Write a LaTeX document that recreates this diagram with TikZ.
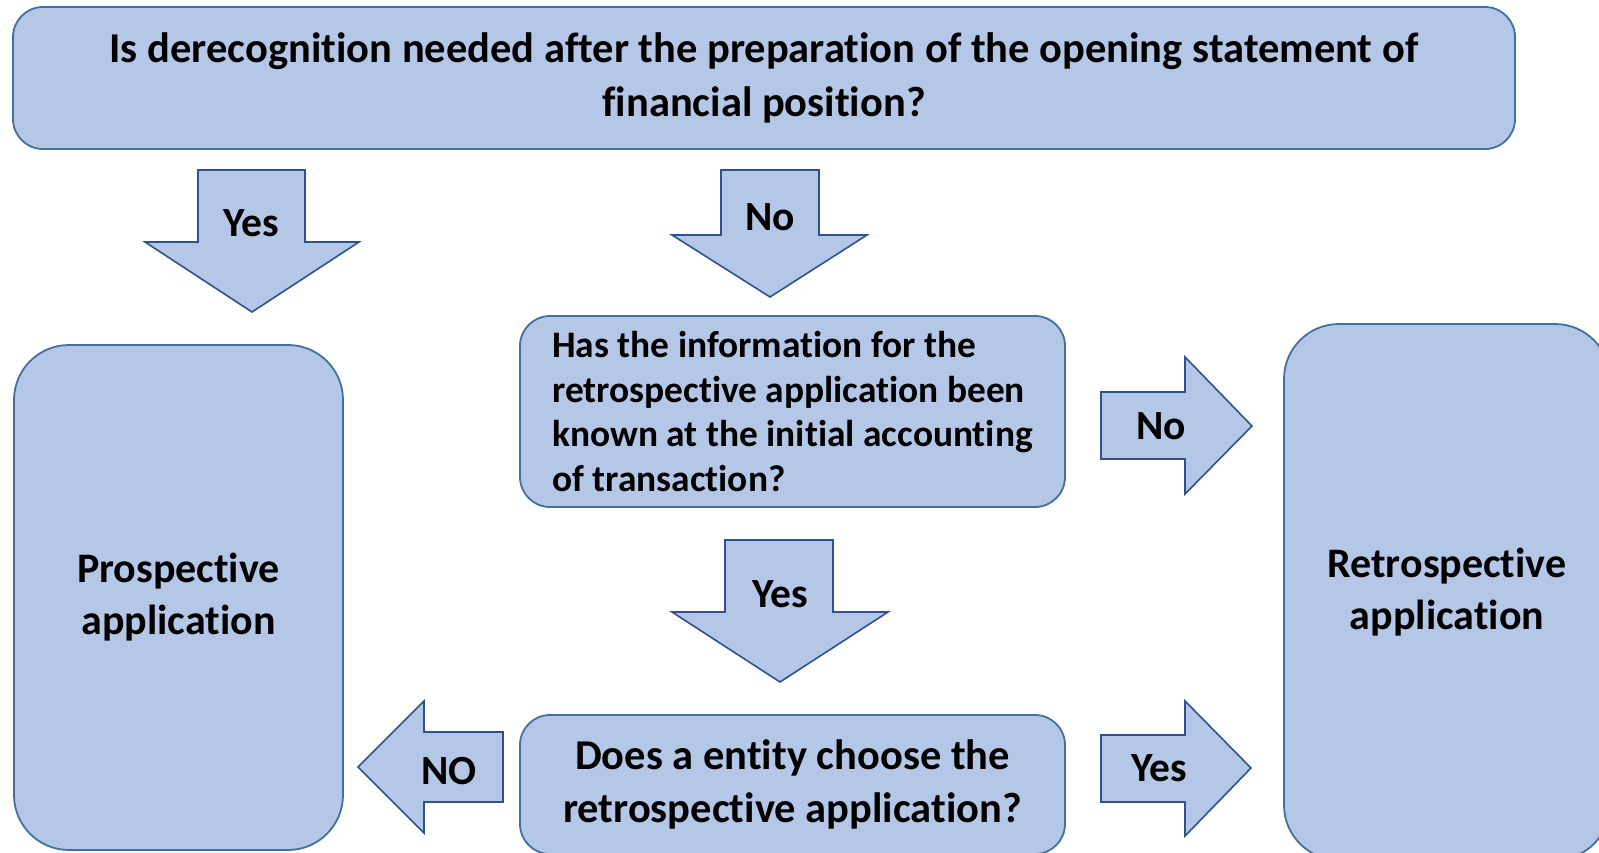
\documentclass[tikz,border=0pt]{standalone}
\usepackage{fontspec}
\setmainfont{Carlito}[Ligatures=NoCommon]
\usetikzlibrary{positioning}

\definecolor{boxfill}{HTML}{B4C7E7}
\definecolor{boxline}{HTML}{41719C}
\definecolor{arrowline}{HTML}{2F528F}

\begin{document}
\begin{tikzpicture}[
    x=1pt, y=-1pt,
    box/.style={rectangle, draw=boxline, fill=boxfill, line width=1.8pt, rounded corners=30pt, inner sep=0pt, font=\bfseries},
    tallbox/.style={box, rounded corners=55pt, minimum width=329pt, font=\bfseries\fontsize{42}{52}\selectfont, align=center},
    barrow/.style={draw=arrowline, fill=boxfill, line width=1.6pt, line join=miter},
    lbl/.style={font=\bfseries\fontsize{41.5}{48}\selectfont, inner sep=0pt}
]
    \useasboundingbox (0,0) rectangle (1599,852);
    \clip (0,0) rectangle (1599,852);

    % Boxes
    \node [box, minimum width=1502pt, minimum height=142pt, align=center, font=\bfseries\fontsize{42.5}{54}\selectfont] (derecog) at (764,78)
        {Is derecognition needed after the preparation of the opening statement of\\financial position?};
    \node [tallbox, minimum height=505pt] (prosp) at (178.5,597.5) {Prospective\\application};
    \node [tallbox, minimum width=326pt, minimum height=536pt] (retro) at (1447,592) {Retrospective\\application};
    \node [box, minimum width=545pt, minimum height=191pt, align=left, font=\bfseries\fontsize{37.4}{44.5}\selectfont] (known) at (792.5,411.5)
        {Has the information for the\\retrospective application been\\known at the initial accounting\\of transaction?};
    \node [box, minimum width=545pt, minimum height=139pt, align=center, font=\bfseries\fontsize{42.5}{53}\selectfont] (choose) at (792.5,784.5)
        {Does a entity choose the\\retrospective application?};

    % Block arrows
    \draw [barrow] (198,170) -- (305,170) -- (305,242) -- (359,242) -- (252,312) -- (145,242) -- (198,242) -- cycle;
    \draw [barrow] (721,170) -- (819,170) -- (819,235) -- (867,235) -- (770,297) -- (672,235) -- (721,235) -- cycle;
    \draw [barrow] (725,540) -- (833,540) -- (833,612) -- (888,612) -- (780,682) -- (672,612) -- (725,612) -- cycle;
    \draw [barrow] (1101,392) -- (1185,392) -- (1185,357) -- (1252,426) -- (1185,494) -- (1185,459) -- (1101,459) -- cycle;
    \draw [barrow] (1101,735) -- (1185,735) -- (1185,701) -- (1251,768) -- (1185,836) -- (1185,802) -- (1101,802) -- cycle;
    \draw [barrow] (503,732) -- (424,732) -- (424,701) -- (358,767) -- (424,833) -- (424,802) -- (503,802) -- cycle;

    % Labels
    \node [lbl] (yesleft) at (251,223) {Yes};
    \node [lbl] (notop) at (770,217) {No};
    \node [lbl] (noright) at (1161,426) {No};
    \node [lbl] (yesmid) at (780,594) {Yes};
    \node [lbl] (noleft) at (449,771) {NO};
    \node [lbl] (yesright) at (1159,768) {Yes};
\end{tikzpicture}
\end{document}
